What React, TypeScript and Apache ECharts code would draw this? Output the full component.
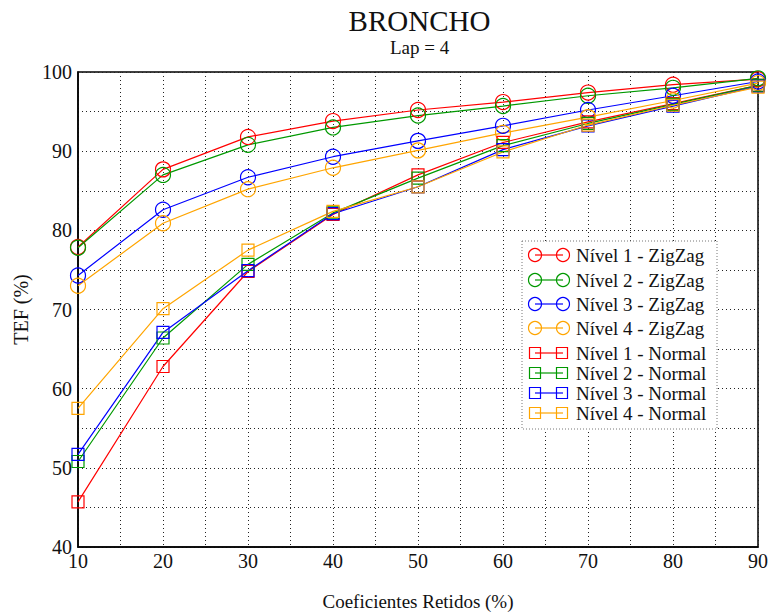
import React, { useEffect, useRef } from "react";
import * as echarts from "echarts";

const xValues = [10, 20, 30, 40, 50, 60, 70, 80, 90];
const zig1 = [77.9, 87.7, 91.8, 93.8, 95.2, 96.2, 97.4, 98.4, 99.1];
const zig2 = [77.8, 87.0, 90.8, 93.0, 94.5, 95.7, 97.0, 98.0, 99.2];
const zig3 = [74.3, 82.6, 86.7, 89.3, 91.3, 93.2, 95.2, 97.0, 98.8];
const zig4 = [73.0, 80.9, 85.2, 87.9, 90.1, 92.3, 94.3, 96.4, 98.6];
const norm1 = [45.7, 62.8, 74.8, 82.0, 87.0, 91.1, 93.7, 96.0, 98.3];
const norm2 = [50.8, 66.4, 75.7, 82.2, 86.6, 90.7, 93.5, 95.9, 98.3];
const norm3 = [51.7, 67.1, 74.9, 82.1, 85.5, 90.2, 93.2, 95.7, 98.2];
const norm4 = [57.5, 70.1, 77.5, 82.4, 85.5, 89.9, 93.3, 95.8, 98.1];
const seriesNames = [
  "Nível 1 - ZigZag",
  "Nível 2 - ZigZag",
  "Nível 3 - ZigZag",
  "Nível 4 - ZigZag",
  "Nível 1 - Normal",
  "Nível 2 - Normal",
  "Nível 3 - Normal",
  "Nível 4 - Normal",
];
const seriesData = [zig1, zig2, zig3, zig4, norm1, norm2, norm3, norm4];
const colors = ["#ff0000", "#009900", "#0000ff", "#ffa500"];
const titleText = "BRONCHO";
const subtitleText = "Lap = 4";

const FONT = "'Liberation Serif', 'Times New Roman', serif";

export default function App() {
  const ref = useRef<HTMLDivElement>(null);
  useEffect(() => {
    if (!ref.current) return;
    const chart = echarts.init(ref.current, undefined, { renderer: "svg" });

    const series = seriesData.map((vals, i) => {
      const c = colors[i % 4];
      const isCircle = i < 4;
      return {
        name: seriesNames[i],
        type: "line",
        data: vals.map((v, j) => [xValues[j], v]),
        symbol: isCircle ? "circle" : "rect",
        symbolSize: isCircle ? 15 : 12,
        showSymbol: true,
        lineStyle: { color: c, width: 1.2 },
        itemStyle: { color: "rgba(0,0,0,0)", borderColor: c, borderWidth: 1.2 },
        emphasis: { disabled: true },
        z: 3,
      };
    });

    const rowsY = [255, 280, 304, 328, 353, 373, 393, 413];
    const legendChildren: any[] = [
      {
        type: "rect",
        shape: { x: 522, y: 241, width: 195, height: 188 },
        style: { fill: "#fff", stroke: "#777", lineWidth: 1, lineDash: [1, 2] },
        z: 10,
      },
    ];
    seriesNames.forEach((name, i) => {
      const c = colors[i % 4];
      const y = rowsY[i];
      const isCircle = i < 4;
      legendChildren.push({
        type: "line",
        shape: { x1: 535, y1: y, x2: 563, y2: y },
        style: { stroke: c, lineWidth: 1.2 },
        z: 11,
      });
      if (isCircle) {
        [535, 563].forEach((cx) =>
          legendChildren.push({
            type: "circle",
            shape: { cx, cy: y, r: 6.5 },
            style: { fill: "none", stroke: c, lineWidth: 1.2 },
            z: 11,
          })
        );
      } else {
        [535, 562].forEach((cx) =>
          legendChildren.push({
            type: "rect",
            shape: { x: cx - 5.5, y: y - 5.5, width: 11, height: 11 },
            style: { fill: "none", stroke: c, lineWidth: 1.2 },
            z: 11,
          })
        );
      }
      legendChildren.push({
        type: "text",
        x: 576,
        y,
        style: {
          text: name,
          font: `19px ${FONT}`,
          fill: "#111",
          verticalAlign: "middle",
          align: "left",
        },
        z: 11,
      });
    });

    const titleEls = [
      {
        type: "text",
        x: 419.5,
        y: 21,
        style: {
          text: titleText,
          font: `29px ${FONT}`,
          fill: "#111",
          align: "center",
          verticalAlign: "middle",
        },
      },
      {
        type: "text",
        x: 419.5,
        y: 47,
        style: {
          text: subtitleText,
          font: `19px ${FONT}`,
          fill: "#111",
          align: "center",
          verticalAlign: "middle",
        },
      },
    ];

    chart.setOption({
      animation: false,
      backgroundColor: "#fff",
      grid: {
        left: 78,
        right: 10,
        top: 72,
        bottom: 67,
        show: true,
        borderColor: "#000",
        borderWidth: 1.5,
        containLabel: false,
      },
      xAxis: {
        type: "value",
        min: 10,
        max: 90,
        interval: 5,
        name: "Coeficientes Retidos (%)",
        nameLocation: "middle",
        nameGap: 45,
        nameTextStyle: { fontFamily: FONT, fontSize: 19, color: "#111" },
        axisLine: { show: true, lineStyle: { color: "#000", width: 1.5 } },
        axisTick: { show: false },
        axisLabel: {
          fontFamily: FONT,
          fontSize: 20,
          color: "#111",
          margin: 4,
          formatter: (v: number) => (v % 10 === 0 ? String(v) : ""),
        },
        splitLine: { show: true, lineStyle: { color: "#222", width: 1, type: [1, 3] } },
      },
      yAxis: {
        type: "value",
        min: 40,
        max: 100,
        interval: 5,
        name: "TEF (%)",
        nameLocation: "middle",
        nameGap: 45,
        nameRotate: 90,
        nameTextStyle: { fontFamily: FONT, fontSize: 20, color: "#111" },
        axisLine: { show: true, lineStyle: { color: "#000", width: 1.5 } },
        axisTick: { show: false },
        axisLabel: {
          fontFamily: FONT,
          fontSize: 20,
          color: "#111",
          margin: 6,
          formatter: (v: number) => (v % 10 === 0 ? String(v) : ""),
        },
        splitLine: { show: true, lineStyle: { color: "#222", width: 1, type: [1, 3] } },
      },
      graphic: [
        { type: "group", children: titleEls },
        { type: "group", children: legendChildren },
      ],
      series,
    });
    return () => chart.dispose();
  }, []);
  return (
    <div
      ref={ref}
      style={{ position: "fixed", left: 0, top: 0, width: 771, height: 616 }}
    />
  );
}
